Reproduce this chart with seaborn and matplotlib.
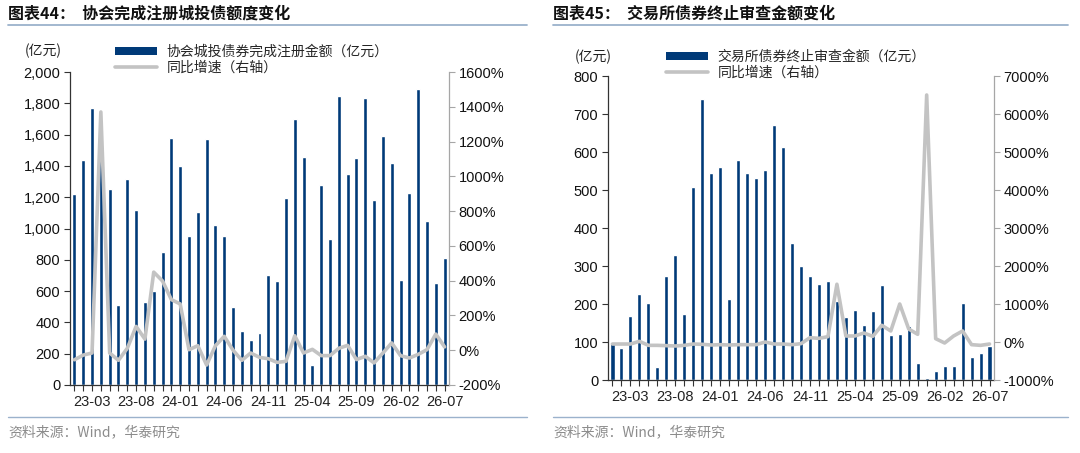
import numpy as np
import matplotlib
matplotlib.use('Agg')
import matplotlib.pyplot as plt
import matplotlib.ticker as mticker
from matplotlib.patches import Patch
from matplotlib.lines import Line2D
import pandas as pd
import seaborn as sns

sns.set_theme(style='ticks')
plt.rcParams['font.family'] = ['Liberation Sans', 'Noto Sans CJK SC', 'DejaVu Sans']
CJK = ['Noto Sans CJK SC', 'DejaVu Sans']

# =========================
# DATA
# =========================
months = pd.period_range('2023-01', '2026-07', freq='M').strftime('%y-%m').tolist()

# 协会完成注册城投债额度 (亿元) and yoy (%)
reg_amount = [1220, 1440, 1770, 1470, 1250, 510, 1315, 1120, 530, 600,
              850, 1580, 1400, 955, 1105, 1570, 1020, 950, 500, 345,
              290, 330, 705, 665, 1195, 1700, 1460, 130, 1280, 930,
              1845, 1350, 1450, 1835, 1180, 1590, 1420, 670, 1230, 1890,
              1045, 650, 810]
reg_yoy = [-55, -28, -16, 1370, -16, -58, 11, 137, 64, 449,
           398, 291, 266, 3, 26, -85, 26, 80, 0, -58,
           -16, -41, -49, -70, -64, 83, -16, 5, -31, -31,
           11, 28, -54, -35, -73, -16, 42, -31, -45, -24,
           3, 93, 19]

# 交易所债券终止审查金额 (亿元) and yoy (%)
term_amount = [98, 84, 168, 227, 203, 33, 275, 329, 174, 508,
               740, 546, 560, 213, 580, 546, 532, 553, 670, 612,
               360, 299, 275, 253, 260, 208, 165, 183, 146, 181,
               249, 119, 122, 143, 46, 4, 23, 37, 37, 202,
               60, 70, 89]
term_yoy = [-53, -53, -53, 18, -88, -88, -96, -105, -88, -53,
            -61, -79, -70, -79, -70, -70, -70, 0, -53, -53,
            -70, -44, 114, 96, 140, 1520, 158, 158, 237, 149,
            439, 290, 1000, 342, 202, 6500, 88, -26, 158, 290,
            -70, -88, -53]

left_title = '图表44：  协会完成注册城投债额度变化'
right_title = '图表45：  交易所债券终止审查金额变化'
left_bar_label = '协会城投债券完成注册金额（亿元）'
right_bar_label = '交易所债券终止审查金额（亿元）'
line_label = '同比增速（右轴）'
source = '资料来源：Wind，华泰研究'

BAR = '#003a78'
LINE = '#c3c3c3'
RULE = '#9bb2cc'

W, H = 1080, 453


def fx(px):
    return px / W


def fy(py):
    return 1 - py / H


def draw(rect, amounts, yoy, ylim, ystep, y2lim, y2step, left_fmt):
    ax = fig.add_axes(rect)
    df = pd.DataFrame({'month': months, 'amount': amounts, 'yoy': yoy,
                       'pos': np.arange(len(months))})
    sns.barplot(data=df, x='month', y='amount', color=BAR, saturation=1,
                width=0.45, ax=ax)
    ax2 = ax.twinx()
    sns.lineplot(data=df, x='pos', y='yoy', color=LINE, lw=2.6, ax=ax2,
                 legend=False)
    n = len(months)
    ax.set_xlim(-0.5, n - 0.5)
    ax.set_ylim(*ylim)
    ax2.set_ylim(*y2lim)
    ax.set_xticks(range(n))
    ax.set_xticklabels([m if (i - 2) % 5 == 0 else '' for i, m in enumerate(months)])
    ax.set_yticks(np.arange(ylim[0], ylim[1] + 1, ystep))
    ax2.set_yticks(np.arange(y2lim[0], y2lim[1] + 1, y2step))
    ax.yaxis.set_major_formatter(mticker.FuncFormatter(left_fmt))
    ax2.yaxis.set_major_formatter(mticker.FuncFormatter(lambda v, p: f'{v:.0f}%'))
    ax.set_xlabel('')
    ax.set_ylabel('')
    ax2.set_ylabel('')
    for s in ['top', 'right']:
        ax.spines[s].set_visible(False)
    for s in ['top', 'left', 'bottom']:
        ax2.spines[s].set_visible(False)
    ax.spines['left'].set_color('#333333')
    ax.spines['bottom'].set_color('#333333')
    ax2.spines['right'].set_color('#a6a6a6')
    for s in ['left', 'bottom']:
        ax.spines[s].set_linewidth(0.9)
    ax2.spines['right'].set_linewidth(0.9)
    ax.tick_params(axis='x', direction='out', length=4, width=0.8, color='#333333',
                   labelsize=10.5, labelcolor='#222222', pad=3)
    ax.tick_params(axis='y', direction='out', length=4, width=0.8, color='#333333',
                   labelsize=10.5, labelcolor='#111111', pad=3)
    ax2.tick_params(axis='y', direction='out', length=4, width=0.8, color='#a6a6a6',
                    labelsize=10.5, labelcolor='#111111', pad=3)
    return ax, ax2


fig = plt.figure(figsize=(W / 100, H / 100), dpi=100)

# left panel
draw([fx(70), fy(385), fx(449 - 70), (385 - 72) / H], reg_amount, reg_yoy,
     (0, 2000), 200, (-200, 1600), 200, lambda v, p: f'{v:,.0f}')
# right panel
draw([fx(608), fy(380), fx(994 - 608), (380 - 76) / H], term_amount, term_yoy,
     (0, 800), 100, (-1000, 7000), 1000, lambda v, p: f'{v:.0f}')

# titles, rules, source
for x0, x1, title in [(8, 527, left_title), (553, 1068, right_title)]:
    fig.text(fx(x0), fy(14), title, family=CJK, fontsize=11.5, weight='bold',
             color='#111111', va='center', ha='left')
    fig.add_artist(Line2D([fx(x0), fx(x1)], [fy(25), fy(25)], color=RULE, lw=1.3))
    fig.add_artist(Line2D([fx(x0), fx(x1)], [fy(417), fy(417)], color=RULE, lw=1.0))
    fig.text(fx(x0), fy(432), source, family=CJK, fontsize=10, color='#8c8c8c',
             va='center', ha='left')

# unit labels
fig.text(fx(25), fy(51), '(亿元)', family=CJK, fontsize=10, color='#222222', va='center')
fig.text(fx(575), fy(57), '(亿元)', family=CJK, fontsize=10, color='#222222', va='center')

# legends
for x, y, lab in [(115, 45, left_bar_label), (666, 50, right_bar_label)]:
    handles = [Patch(facecolor=BAR, edgecolor='none'),
               Line2D([], [], color=LINE, lw=2.6)]
    fig.legend(handles, [lab, line_label], loc='upper left',
               bbox_to_anchor=(fx(x), fy(y)), frameon=False,
               prop={'family': CJK, 'size': 10}, handlelength=3.0,
               handleheight=0.55, handletextpad=0.7, labelspacing=0.12,
               borderpad=0, borderaxespad=0)

fig.savefig('out.png', dpi=100)
